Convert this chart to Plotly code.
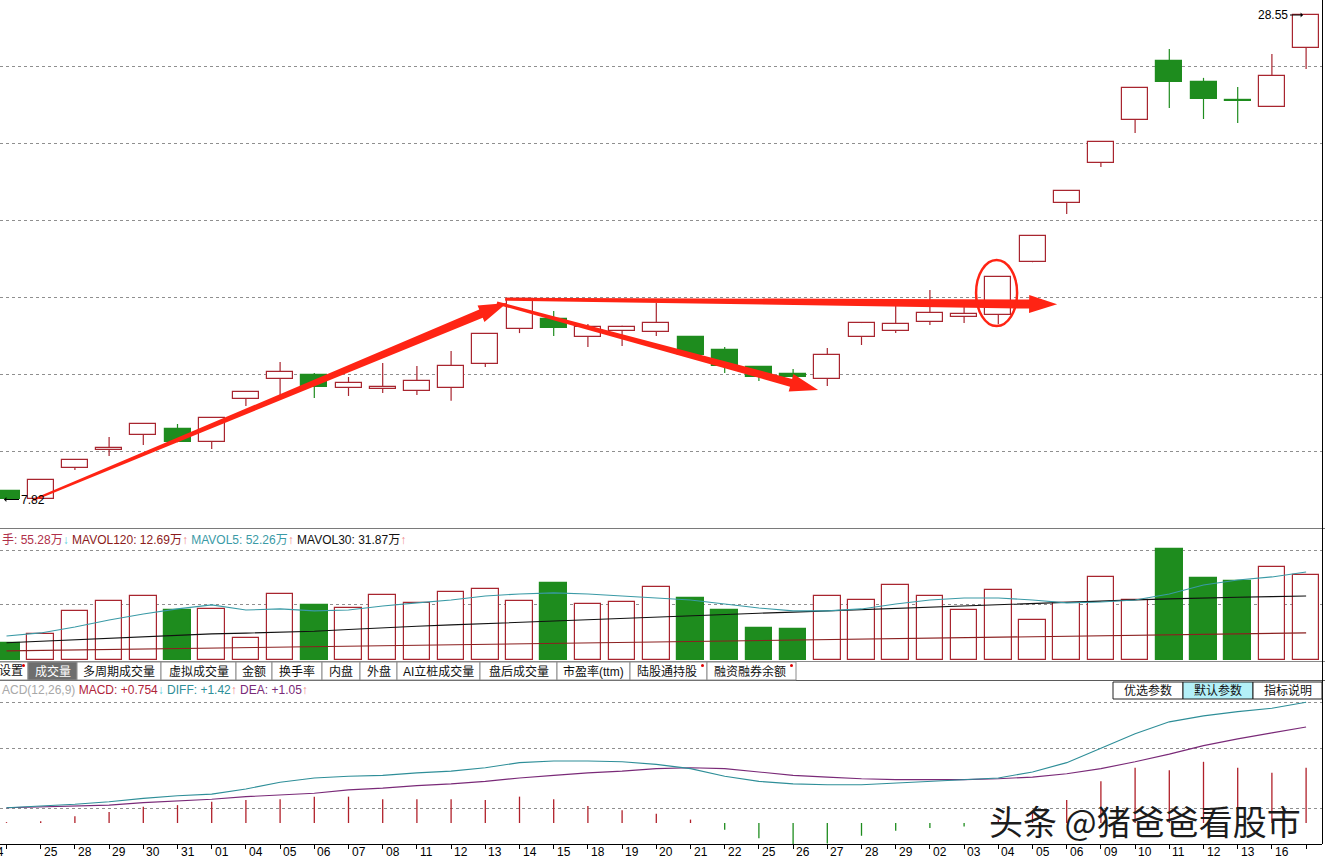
import math
import plotly.graph_objects as go

# ---------------- data ----------------
dates = ["24", "25", "28", "29", "30", "31", "01", "04", "05", "06", "07", "08",
         "11", "12", "13", "14", "15", "18", "19", "20", "21", "22", "25", "26",
         "27", "28", "29", "02", "03", "04", "05", "06", "09", "10", "11", "12",
         "13", "16", "17"]

opens = [8.18, 7.86, 9.17, 9.94, 10.58, 10.84, 10.28, 12.12, 12.98, 13.15, 12.59, 12.55,
         12.46, 12.59, 13.62, 15.12, 15.54, 14.77, 15.03, 14.99, 14.77, 14.22, 13.49, 13.19,
         12.98, 14.77, 15.03, 15.42, 15.63, 15.72, 17.98, 20.51, 22.22, 24.06, 26.58, 25.69,
         24.88, 24.62, 27.14]
highs = [8.20, 8.66, 9.52, 10.49, 11.06, 11.05, 11.32, 12.43, 13.70, 13.23, 13.06, 13.66,
         13.53, 14.17, 14.91, 16.41, 15.89, 15.33, 15.25, 16.23, 14.79, 14.35, 13.50, 13.40,
         14.30, 15.38, 16.14, 16.78, 16.10, 17.35, 19.11, 21.03, 23.13, 25.44, 27.10, 25.86,
         25.47, 26.88, 28.55]
lows = [7.82, 7.84, 9.08, 9.68, 10.15, 10.27, 9.98, 11.82, 12.29, 12.16, 12.25, 12.38,
        12.29, 12.04, 13.49, 14.94, 14.82, 14.35, 14.39, 14.82, 13.88, 13.23, 12.89, 13.04,
        12.68, 14.43, 14.94, 15.29, 15.37, 15.33, 17.97, 20.04, 22.05, 23.50, 24.57, 24.10,
        23.93, 24.61, 26.24]
closes = [7.85, 8.65, 9.51, 10.02, 11.05, 10.28, 11.31, 12.42, 13.28, 12.63, 12.81, 12.63,
          12.89, 13.53, 14.90, 16.40, 15.16, 15.20, 15.20, 15.37, 14.00, 13.53, 13.06, 13.06,
          14.00, 15.37, 15.33, 15.80, 15.76, 17.34, 19.10, 21.02, 23.12, 25.43, 25.69, 24.96,
          24.87, 25.94, 28.55]

# volume in 万手
volumes = [11.2, 17.1, 31.9, 38.4, 41.6, 32.7, 33.2, 14.1, 42.9, 35.8, 33.6, 42.3,
           37.1, 44.2, 46.2, 38.4, 50.1, 36.4, 37.7, 47.5, 40.3, 32.5, 20.8, 20.2,
           41.6, 39.0, 48.8, 41.6, 32.5, 45.5, 26.0, 37.1, 54.0, 39.0, 72.2, 53.3,
           51.4, 60.5, 55.3]
mavol5 = [15.6, 17.6, 21.5, 26.0, 29.9, 33.2, 35.8, 32.5, 33.2, 31.9, 32.5, 35.1,
          37.1, 39.0, 41.6, 42.9, 43.6, 42.9, 41.6, 40.3, 39.0, 36.4, 33.8, 31.9,
          31.9, 33.2, 36.4, 39.0, 40.3, 40.3, 39.0, 37.1, 37.7, 39.0, 42.9, 48.8,
          52.0, 54.0, 57.2]
mavol30 = [11.2, 12.1, 13.0, 14.0, 15.0, 16.2, 17.0, 17.5, 17.9, 18.7, 19.8, 21.0,
           21.9, 22.8, 23.7, 24.6, 25.5, 26.3, 27.2, 28.1, 29.0, 29.7, 30.4, 31.1,
           31.9, 32.8, 33.7, 34.6, 35.5, 36.3, 37.1, 37.7, 38.4, 39.1, 39.7, 40.4,
           40.8, 41.2, 41.6]
mavol120 = [5.9, 6.2, 6.5, 6.8, 7.1, 7.5, 7.7, 8.0, 8.4, 8.6, 9.0, 9.3,
            9.6, 9.9, 10.2, 10.5, 10.8, 11.1, 11.4, 11.7, 12.0, 12.4, 12.7, 12.9,
            13.3, 13.6, 13.9, 14.2, 14.5, 14.8, 15.1, 15.4, 15.7, 16.1, 16.3, 16.6,
            17.0, 17.2, 17.6]

diff = [0.18, 0.20, 0.22, 0.25, 0.29, 0.32, 0.34, 0.40, 0.48, 0.53, 0.55, 0.56,
        0.59, 0.61, 0.65, 0.71, 0.73, 0.73, 0.72, 0.69, 0.64, 0.55, 0.49, 0.46,
        0.45, 0.45, 0.47, 0.49, 0.51, 0.53, 0.60, 0.71, 0.88, 1.05, 1.19, 1.26,
        1.31, 1.35, 1.42]
dea = [0.18, 0.19, 0.20, 0.21, 0.24, 0.26, 0.28, 0.31, 0.33, 0.35, 0.39, 0.41,
       0.44, 0.46, 0.49, 0.53, 0.56, 0.59, 0.61, 0.64, 0.65, 0.64, 0.60, 0.56,
       0.54, 0.52, 0.51, 0.51, 0.51, 0.52, 0.54, 0.58, 0.64, 0.72, 0.81, 0.91,
       0.99, 1.06, 1.13]
macd = [0.01, 0.02, 0.08, 0.13, 0.19, 0.21, 0.25, 0.27, 0.28, 0.31, 0.31, 0.28,
        0.28, 0.28, 0.27, 0.31, 0.28, 0.20, 0.15, 0.11, 0.04, -0.08, -0.18, -0.26,
        -0.24, -0.15, -0.09, -0.06, -0.04, 0.04, 0.13, 0.27, 0.49, 0.65, 0.62, 0.72,
        0.65, 0.59, 0.65]

# legend texts
vol_legend = [("手: 55.28万", "#B0304A"), ("↓", "#62CFE0"), (" MAVOL120: 12.69万", "#8B1A1A"),
              ("↑", "#F08A8A"), (" MAVOL5: 52.26万", "#3A9AA6"), ("↑", "#F08A8A"),
              (" MAVOL30: 31.87万", "#111111"), ("↑", "#F08A8A")]
macd_legend = [("ACD(12,26,9) ", "#A8A8A8"), ("MACD: +0.754", "#B0243A"), ("↓", "#62CFE0"),
               (" DIFF: +1.42", "#2E8E98"), ("↑", "#F08A8A"), (" DEA: +1.05", "#7A2A78"),
               ("↑", "#F08A8A")]
tabs = ["设置", "成交量", "多周期成交量", "虚拟成交量", "金额", "换手率", "内盘", "外盘",
        "AI立桩成交量", "盘后成交量", "市盈率(ttm)", "陆股通持股", "融资融券余额"]
tab_dots = ["设置", "陆股通持股", "融资融券余额"]
selected_tab = "成交量"
buttons = ["优选参数", "默认参数", "指标说明"]
selected_button = "默认参数"
watermark = "头条 @猪爸爸看股市"

# annotation arrows (index, price)
arrows = [
    dict(start=(0.78, 7.80), tip=(14.63, 16.23), w0=2, w1=9),
    dict(start=(14.34, 16.23), tip=(23.73, 12.50), w0=3, w1=8),
    dict(start=(14.58, 16.39), tip=(30.72, 16.17), w0=3, w1=9),
]
circle_box = dict(x0=28.35, x1=29.55, y0=15.24, y1=18.07)

# ---------------- layout geometry ----------------
W, H = 1325, 860
PLOT_R = 1322
IDX_PX = 34.2
X0_PX = 6.5
N = len(dates)
xr0 = -X0_PX / IDX_PX
xr1 = xr0 + PLOT_R / IDX_PX

RED = "#A8252F"
GREEN = "#1E8C1E"
ARROW_RED = "#FF2414"
CJK = "Liberation Sans, Noto Sans CJK SC, sans-serif"


def py(p):
    return 1 - p / H


def pxp(p):
    return p / W


def idx_px(i):
    return (i - xr0) * IDX_PX


def idx_at(p):
    return p / IDX_PX + xr0


# price panel
P_TOP, P_BOT = 0, 528
P_HI_PX, P_LO_PX = 15, 499.5
p_hi, p_lo = max(highs), min(lows)
ppu = (P_LO_PX - P_HI_PX) / (p_hi - p_lo)


def price_at(pv):
    return p_lo + (P_LO_PX - pv) / ppu


def price_px(v):
    return P_LO_PX - (v - p_lo) * ppu


price_grid = [price_at(p) for p in (66, 143, 220, 297, 374, 451)]

# volume panel
V_TOP, V_BOT = 530, 660
V_PER_PX = 0.65
vol_grid = [(V_BOT - p) * V_PER_PX for p in (604, 550)]

# macd panel
M_TOP, M_BOT, M_ZERO = 682, 844, 823
M_PX_PER = 85.0
macd_grid = [(M_ZERO - p) / M_PX_PER for p in (702, 748, 808)]

fig = go.Figure()

# ---------------- candles ----------------
up = [c > o for o, c in zip(opens, closes)]
for is_up in (True, False):
    xs, bases, hs = [], [], []
    for i in range(N):
        if up[i] != is_up:
            continue
        lo_b = min(opens[i], closes[i])
        hgt = max(abs(closes[i] - opens[i]), 0.03)
        xs.append(i)
        bases.append(lo_b)
        hs.append(hgt)
    col = RED if is_up else GREEN
    fig.add_trace(go.Bar(x=xs, y=hs, base=bases, width=0.76, yaxis="y",
                         marker=dict(color="white" if is_up else GREEN,
                                     line=dict(color=col, width=1.2)),
                         hoverinfo="skip"))
    wx, wy = [], []
    for i in range(N):
        if up[i] != is_up:
            continue
        top = max(opens[i], closes[i])
        bot = min(opens[i], closes[i])
        if highs[i] > top:
            wx += [i, i, None]
            wy += [top, highs[i], None]
        if lows[i] < bot:
            wx += [i, i, None]
            wy += [bot, lows[i], None]
    fig.add_trace(go.Scatter(x=wx, y=wy, mode="lines", yaxis="y",
                             line=dict(color=col, width=1.2), hoverinfo="skip"))

# ---------------- volume ----------------
for is_up in (True, False):
    xs = [i for i in range(N) if up[i] == is_up]
    ys = [volumes[i] for i in xs]
    col = RED if is_up else GREEN
    fig.add_trace(go.Bar(x=xs, y=ys, width=0.78, yaxis="y2",
                         marker=dict(color="white" if is_up else GREEN,
                                     line=dict(color=col, width=1.2)),
                         hoverinfo="skip"))
for series, col in ((mavol120, "#8B2020"), (mavol30, "#111111"), (mavol5, "#3A9AA6")):
    fig.add_trace(go.Scatter(x=list(range(N)), y=series, mode="lines", yaxis="y2",
                             line=dict(color=col, width=1.1), hoverinfo="skip"))

# ---------------- MACD ----------------
for positive, col in ((True, "#B0202A"), (False, GREEN)):
    hx, hy = [], []
    for i, v in enumerate(macd):
        if (v >= 0) == positive:
            hx += [i, i, None]
            hy += [0, v, None]
    fig.add_trace(go.Scatter(x=hx, y=hy, mode="lines", yaxis="y3",
                             line=dict(color=col, width=1.3), hoverinfo="skip"))
fig.add_trace(go.Scatter(x=list(range(N)), y=dea, mode="lines", yaxis="y3",
                         line=dict(color="#7A2A78", width=1.1), hoverinfo="skip"))
fig.add_trace(go.Scatter(x=list(range(N)), y=diff, mode="lines", yaxis="y3",
                         line=dict(color="#2E8E98", width=1.1), hoverinfo="skip"))

shapes = []
annotations = []

# ---------------- red hand-drawn arrows ----------------
def arrow_path(start, tip, w0, w1, L=28.0, hh=9.0):
    sx, sy = idx_px(start[0]), price_px(start[1])
    tx, ty = idx_px(tip[0]), price_px(tip[1])
    dx, dy = tx - sx, ty - sy
    d = math.hypot(dx, dy)
    ux, uy = dx / d, dy / d
    nx, ny = -uy, ux
    bx, by = tx - ux * L, ty - uy * L
    pts = [(sx + nx * w0 / 2, sy + ny * w0 / 2), (bx + nx * w1 / 2, by + ny * w1 / 2),
           (bx + nx * hh, by + ny * hh), (tx, ty), (bx - nx * hh, by - ny * hh),
           (bx - nx * w1 / 2, by - ny * w1 / 2), (sx - nx * w0 / 2, sy - ny * w0 / 2)]
    return "M " + " L ".join(f"{idx_at(a):.4f},{price_at(b):.4f}" for a, b in pts) + " Z"


for a in arrows:
    shapes.append(dict(type="path", xref="x", yref="y",
                       path=arrow_path(a["start"], a["tip"], a["w0"], a["w1"]),
                       fillcolor=ARROW_RED, line=dict(width=0), layer="above"))
shapes.append(dict(type="circle", xref="x", yref="y", **circle_box,
                   line=dict(color=ARROW_RED, width=2.5), layer="above"))

# ---------------- panel frame lines ----------------
def hline(p, color, width=1, x0=0, x1=W):
    shapes.append(dict(type="line", xref="paper", yref="paper", x0=pxp(x0), x1=pxp(x1),
                       y0=py(p), y1=py(p), line=dict(color=color, width=width)))


hline(528.5, "#7a7a7a")
hline(661.5, "#8a8a8a")
hline(680.5, "#5a5a5a")
shapes.append(dict(type="line", xref="paper", yref="paper", x0=pxp(PLOT_R + 0.5),
                   x1=pxp(PLOT_R + 0.5), y0=py(M_BOT), y1=py(0),
                   line=dict(color="black", width=1)))

# ---------------- tab bar ----------------
tab_edges = [-20, 28, 77, 161, 236, 272, 322, 360, 397, 480, 557, 630, 707, 796]
for k, name in enumerate(tabs):
    x0, x1 = tab_edges[k], tab_edges[k + 1]
    sel = name == selected_tab
    shapes.append(dict(type="rect", xref="paper", yref="paper", x0=pxp(x0), x1=pxp(x1),
                       y0=py(680), y1=py(662),
                       fillcolor="#6E6E6E" if sel else "white",
                       line=dict(color="#8c8c8c", width=1)))
    cx = (max(x0, -2) + x1) / 2 - (2 if name in tab_dots else 0)
    annotations.append(dict(x=pxp(cx), y=py(671), xref="paper", yref="paper",
                            text=name, showarrow=False, xanchor="center", yanchor="middle",
                            font=dict(family=CJK, size=12, color="white" if sel else "#111")))
    if name in tab_dots:
        shapes.append(dict(type="circle", xref="paper", yref="paper",
                           x0=pxp(x1 - 6), x1=pxp(x1 - 3), y0=py(667), y1=py(664),
                           fillcolor="#E00000", line=dict(width=0)))

# ---------------- right buttons ----------------
btn_edges = [1113, 1183, 1253, 1322]
for k, name in enumerate(buttons):
    x0, x1 = btn_edges[k], btn_edges[k + 1]
    sel = name == selected_button
    shapes.append(dict(type="rect", xref="paper", yref="paper", x0=pxp(x0), x1=pxp(x1),
                       y0=py(699), y1=py(682),
                       fillcolor="#B4F0F8" if sel else "white",
                       line=dict(color="#222", width=1)))
    annotations.append(dict(x=pxp((x0 + x1) / 2), y=py(690.5), xref="paper", yref="paper",
                            text=name, showarrow=False, xanchor="center", yanchor="middle",
                            font=dict(family=CJK, size=12, color="#111")))

# ---------------- legends ----------------
def rich(parts):
    return "".join(f'<span style="color:{c}">{t}</span>' for t, c in parts)


annotations.append(dict(x=pxp(0), y=py(540), xref="paper", yref="paper", text=rich(vol_legend),
                        showarrow=False, xanchor="left", yanchor="middle",
                        font=dict(family=CJK, size=12)))
annotations.append(dict(x=pxp(0), y=py(690), xref="paper", yref="paper", text=rich(macd_legend),
                        showarrow=False, xanchor="left", yanchor="middle",
                        font=dict(family=CJK, size=12)))

# ---------------- price extreme labels ----------------
annotations.append(dict(x=idx_at(1303), y=p_hi, xref="x", yref="y", text=f"{p_hi:.2f}",
                        showarrow=True, ax=-13, ay=0, arrowhead=1, arrowsize=0.8,
                        arrowwidth=1, arrowcolor="black", xanchor="right", yanchor="middle",
                        font=dict(family="Liberation Sans", size=12, color="black")))
annotations.append(dict(x=idx_at(4), y=p_lo, xref="x", yref="y", text=f"{p_lo:.2f}",
                        showarrow=True, ax=15, ay=0, arrowhead=1, arrowsize=0.8,
                        arrowwidth=1, arrowcolor="black", xanchor="left", yanchor="middle",
                        font=dict(family="Liberation Sans", size=12, color="black")))

# ---------------- date labels ----------------
for i, d in enumerate(dates):
    if idx_px(i) + 16 > PLOT_R:
        continue
    annotations.append(dict(x=i, y=py(852), xref="x", yref="paper", text=d, showarrow=False,
                            xanchor="right" if i == 0 else "left", yanchor="middle",
                            xshift=-1 if i == 0 else 1,
                            font=dict(family="Liberation Sans", size=12, color="black")))

# ---------------- watermark ----------------
annotations.append(dict(x=pxp(1145), y=py(820), xref="paper", yref="paper", text=watermark,
                        showarrow=False, xanchor="center", yanchor="middle",
                        font=dict(family="Noto Sans CJK SC", size=34, color="#1c1c1c")))

grid_style = dict(showgrid=True, gridcolor="#8f8f8f", griddash="dot", gridwidth=1,
                  showticklabels=False, zeroline=False, showline=False, ticks="")

fig.update_layout(
    width=W, height=H, margin=dict(l=0, r=0, t=0, b=0),
    paper_bgcolor="white", plot_bgcolor="white", showlegend=False,
    barmode="overlay", bargap=0,
    xaxis=dict(domain=[0, PLOT_R / W], range=[xr0, xr1], anchor="y3",
               showgrid=False, zeroline=False, showline=True, linecolor="black", linewidth=1,
               ticks="outside", ticklen=4, tickcolor="black", tickwidth=1,
               tickvals=list(range(N)), showticklabels=False, fixedrange=True),
    yaxis=dict(domain=[py(P_BOT), py(P_TOP)], range=[price_at(P_BOT), price_at(P_TOP)],
               tickvals=price_grid, **grid_style),
    yaxis2=dict(domain=[py(V_BOT), py(V_TOP)], range=[0, (V_BOT - V_TOP) * V_PER_PX],
                tickvals=vol_grid, **grid_style),
    yaxis3=dict(domain=[py(M_BOT), py(M_TOP)],
                range=[-(M_BOT - M_ZERO) / M_PX_PER, (M_ZERO - M_TOP) / M_PX_PER],
                tickvals=macd_grid, **grid_style),
    shapes=shapes, annotations=annotations,
)

fig.write_html("out.html", config={"displayModeBar": False},
               post_script="document.body.style.margin='0';document.body.style.overflow='hidden';")
